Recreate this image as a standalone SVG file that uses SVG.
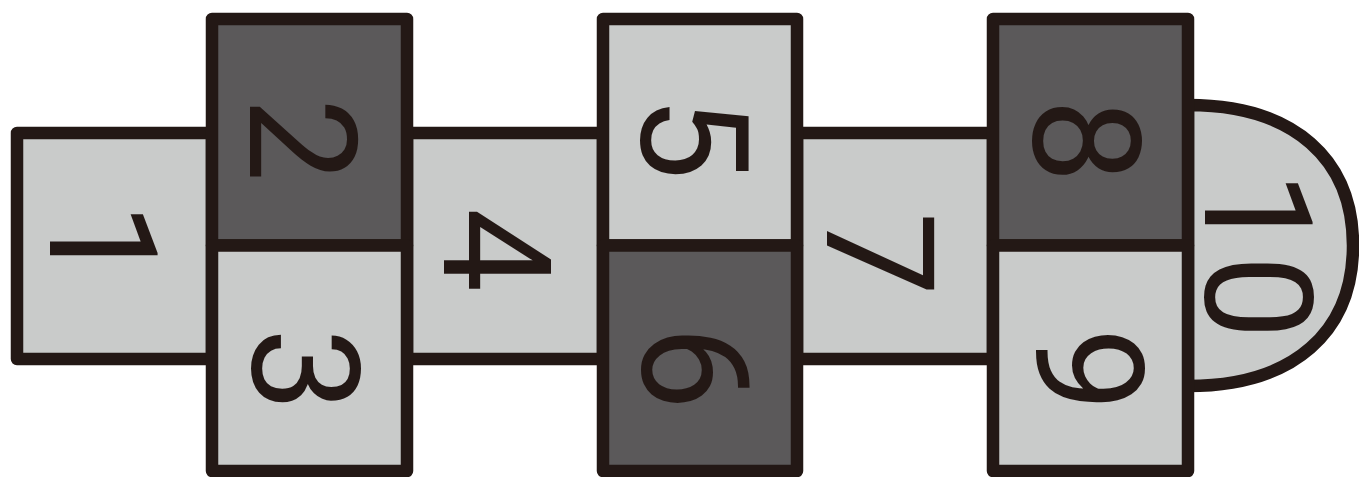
<svg xmlns="http://www.w3.org/2000/svg" width="1359" height="477" viewBox="0 0 1359 477">
<style>
.c{stroke:#231815;stroke-width:12.5;stroke-linejoin:round}
.l{fill:#c9cbca}
.d{fill:#5b595a}
.t{font-family:Roboto,"Liberation Sans",sans-serif;font-size:150px;fill:#231815;text-anchor:middle}
</style>
<rect width="1359" height="477" fill="#ffffff"/>
<g id="cell1"><rect class="c l" x="17" y="133" width="195" height="226"/><text class="t" transform="translate(103,244) rotate(90)" y="53">1</text></g>
<g id="cell4"><rect class="c l" x="407" y="133" width="196" height="226"/><text class="t" transform="translate(497,250) rotate(90)" y="53">4</text></g>
<g id="cell7"><rect class="c l" x="797" y="133" width="196" height="226"/><text class="t" transform="translate(880,254) rotate(90)" y="53">7</text></g>
<g id="cell10"><path class="c l" d="M1188,105 C1295,105 1353,160 1353,245.5 C1353,331 1295,386 1188,386 Z"/><text class="t" transform="translate(1258,255) rotate(90)" y="53">10</text></g>
<g id="cell2"><rect class="c d" x="212" y="19" width="195" height="226.5"/><text class="t" transform="translate(303,140) rotate(90)" y="53">2</text></g>
<g id="cell3"><rect class="c l" x="212" y="245.5" width="195" height="225.5"/><text class="t" transform="translate(305,370) rotate(90)" y="53">3</text></g>
<g id="cell5"><rect class="c l" x="603" y="19" width="194" height="226.5"/><text class="t" transform="translate(694,138) rotate(90)" y="53">5</text></g>
<g id="cell6"><rect class="c d" x="603" y="245.5" width="194" height="225.5"/><text class="t" transform="translate(695,368) rotate(90)" y="53">6</text></g>
<g id="cell8"><rect class="c d" x="993" y="19" width="195" height="226.5"/><text class="t" transform="translate(1086,141) rotate(90)" y="53">8</text></g>
<g id="cell9"><rect class="c l" x="993" y="245.5" width="195" height="225.5"/><text class="t" transform="translate(1089,370) rotate(90)" y="53">9</text></g>
<g id="connectors"></g>
</svg>
